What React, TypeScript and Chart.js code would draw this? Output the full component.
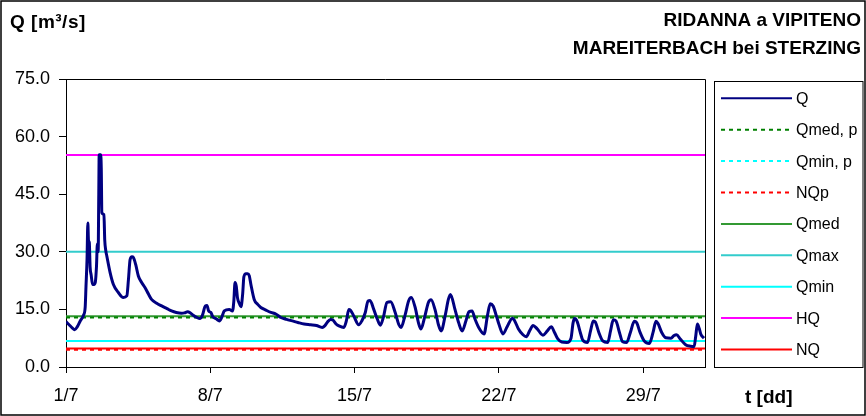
import React, { useEffect, useRef } from 'react';
import { Chart, registerables } from 'chart.js';

Chart.register(...registerables);

// ---- data ----
const xTickDays = [0, 7, 14, 21, 28];
const xTickLabels = ['1/7', '8/7', '15/7', '22/7', '29/7'];
const yTicks = [0, 15, 30, 45, 60, 75];
const xRange = [0, 31];

const qDays = [
  0.0, 0.15, 0.3, 0.42, 0.55, 0.69, 0.85, 0.93, 0.97, 1.02, 1.06, 1.09, 1.13, 1.17, 1.22, 1.29, 1.36, 1.42, 1.48, 1.52,
  1.56, 1.59, 1.61, 1.68, 1.71, 1.74, 1.84, 1.88, 1.93, 1.98, 2.14, 2.3, 2.54, 2.78, 2.95, 3.03, 3.11, 3.2, 3.27, 3.38,
  3.51, 3.67, 3.83, 4.0, 4.15, 4.4, 4.64, 4.9, 5.12, 5.35, 5.6, 5.75, 5.9, 6.05, 6.17, 6.35, 6.49, 6.62, 6.76, 6.84,
  6.92, 7.03, 7.12, 7.3, 7.44, 7.56, 7.68, 7.92, 8.08, 8.14, 8.2, 8.26, 8.32, 8.42, 8.49, 8.57, 8.63, 8.73, 8.81, 8.89,
  8.97, 9.13, 9.3, 9.45, 9.7, 9.94, 10.18, 10.42, 10.7, 10.98, 11.25, 11.55, 11.87, 12.15, 12.43, 12.55, 12.67, 12.83, 12.95, 13.1,
  13.24, 13.48, 13.6, 13.72, 13.8, 13.96, 14.2, 14.35, 14.52, 14.65, 14.75, 14.93, 15.1, 15.25, 15.4, 15.57, 15.75, 15.97, 16.15, 16.25,
  16.45, 16.62, 16.75, 16.94, 17.1, 17.22, 17.4, 17.58, 17.71, 17.9, 18.07, 18.2, 18.4, 18.55, 18.65, 18.87, 19.05, 19.22, 19.4, 19.55,
  19.7, 19.84, 20.05, 20.28, 20.45, 20.58, 20.72, 20.88, 21.0, 21.2, 21.4, 21.66, 21.77, 21.95, 22.17, 22.33, 22.5, 22.66, 22.85, 23.14,
  23.35, 23.54, 23.7, 23.86, 24.05, 24.3, 24.5, 24.6, 24.68, 24.8, 24.95, 25.07, 25.3, 25.45, 25.58, 25.68, 25.85, 26.04, 26.28, 26.42,
  26.55, 26.68, 26.85, 27.0, 27.2, 27.38, 27.57, 27.68, 27.85, 28.05, 28.3, 28.48, 28.62, 28.72, 28.9, 29.1, 29.35, 29.5, 29.62, 29.8,
  30.06, 30.3, 30.47, 30.55, 30.63, 30.72, 30.8, 30.95,
];

const qValues = [
  11.8, 11.0, 10.2, 9.7, 10.5, 12.0, 13.5, 15.5, 21.0, 28.0, 37.5, 33.0, 32.4, 26.0, 24.0, 21.5, 21.5, 22.0, 26.3, 32.0,
  30.0, 45.0, 55.3, 55.3, 52.0, 40.2, 39.7, 33.0, 30.3, 28.9, 24.6, 21.5, 19.4, 18.1, 18.5, 22.8, 28.0, 28.7, 28.5, 26.7,
  23.7, 22.0, 20.7, 19.0, 17.6, 16.6, 15.9, 15.2, 14.6, 14.2, 14.0, 14.1, 14.4, 14.0, 13.5, 12.9, 12.6, 13.5, 15.9, 16.0,
  14.6, 14.2, 13.1, 12.5, 12.0, 13.0, 14.6, 15.0, 14.6, 17.0, 22.0, 21.0, 18.0, 16.4, 15.7, 19.0, 23.5, 24.3, 24.3, 23.8,
  21.5, 17.6, 16.3, 15.5, 14.8, 14.2, 13.8, 12.9, 12.4, 12.0, 11.6, 11.2, 11.0, 10.8, 10.3, 10.7, 11.6, 12.4, 12.2, 11.2,
  10.7, 10.3, 12.0, 15.0, 14.8, 13.3, 11.0, 12.0, 14.2, 17.2, 17.3, 15.0, 12.5, 10.9, 13.0, 16.8, 17.0, 14.2, 11.0, 10.3,
  13.5, 17.2, 18.1, 15.5, 11.5, 9.9, 13.0, 16.8, 17.5, 15.0, 11.0, 9.4, 13.5, 17.6, 18.9, 15.0, 11.5, 9.4, 12.0, 14.4,
  14.6, 12.5, 10.0, 8.6, 13.5, 16.5, 15.9, 13.3, 11.2, 8.6, 10.5, 12.7, 12.0, 9.9, 8.4, 7.9, 9.5, 10.8, 10.0, 8.3,
  9.4, 10.5, 9.0, 7.3, 6.5, 6.4, 7.5, 11.5, 12.6, 11.8, 9.0, 7.0, 6.4, 9.5, 12.0, 11.7, 9.0, 6.8, 6.4, 9.5,
  12.3, 12.0, 9.0, 6.6, 6.4, 9.0, 11.9, 11.6, 9.0, 6.8, 6.1, 9.0, 11.9, 11.3, 9.0, 7.6, 7.5, 8.2, 8.4, 7.3,
  5.8, 5.4, 5.3, 8.0, 11.2, 10.0, 8.5, 7.5,
];

const refNames = ['Qmed, p', 'Qmin, p', 'NQp', 'Qmed', 'Qmax', 'Qmin', 'HQ', 'NQ'];
const refValues = [12.9, 6.8, 4.5, 13.2, 30.0, 6.8, 55.2, 4.8];

// ---- styles ----
const refColors = ['#008000', '#00FFFF', '#FF0000', '#339933', '#33CCCC', '#00FFFF', '#FF00FF', '#FF0000'];
const refDashed = [true, true, true, false, false, false, false, false];
const FONT = '"Liberation Sans", Arial, sans-serif';

const decorPlugin = {
  id: 'decor',
  beforeDraw(chart: any) {
    const ctx = chart.ctx;
    ctx.save();
    ctx.fillStyle = '#fff';
    ctx.fillRect(0, 0, chart.width, chart.height);
    ctx.restore();
  },
  afterDraw(chart: any) {
    const ctx = chart.ctx as CanvasRenderingContext2D;
    const { left, top, right, bottom } = chart.chartArea;
    ctx.save();
    // outer frame
    ctx.strokeStyle = '#000';
    ctx.lineWidth = 1.5;
    ctx.strokeRect(1, 1, chart.width - 2, chart.height - 2);
    // plot frame (top, right)
    ctx.lineWidth = 1;
    ctx.beginPath();
    ctx.moveTo(left, top + 0.5);
    ctx.lineTo(right + 0.5, top + 0.5);
    ctx.lineTo(right + 0.5, bottom);
    ctx.stroke();

    // titles
    ctx.fillStyle = '#000';
    ctx.textBaseline = 'middle';
    ctx.font = `bold 19px ${FONT}`;
    (ctx as any).letterSpacing = '0.5px';
    ctx.textAlign = 'left';
    ctx.fillText('Q [m³/s]', 10, 23);
    (ctx as any).letterSpacing = '0px';
    ctx.textAlign = 'right';
    ctx.fillText('RIDANNA a VIPITENO', 861, 21);
    ctx.fillText('MAREITERBACH bei STERZING', 861, 49);
    ctx.textAlign = 'left';
    ctx.fillText('t [dd]', 745, 398);

    // legend
    const bx = 714, by = 81.5, bw = 148.5, bh = 286;
    ctx.lineWidth = 1;
    ctx.strokeStyle = '#000';
    ctx.strokeRect(bx + 0.5, by, bw, bh);
    ctx.font = `16px ${FONT}`;
    const ds = chart.data.datasets;
    ds.forEach((d: any, i: number) => {
      const y = 98.3 + i * 31.4;
      ctx.save();
      ctx.strokeStyle = d.borderColor;
      ctx.lineWidth = 2;
      ctx.setLineDash(d.borderDash || []);
      ctx.beginPath();
      ctx.moveTo(721, y);
      ctx.lineTo(792, y);
      ctx.stroke();
      ctx.restore();
      ctx.fillStyle = '#000';
      ctx.textAlign = 'left';
      ctx.fillText(d.label, 796, y + 1);
    });
    ctx.restore();
  },
};

export default function App() {
  const ref = useRef<HTMLCanvasElement | null>(null);

  useEffect(() => {
    if (!ref.current) return;
    const qData = qDays.map((x, i) => ({ x, y: qValues[i] }));
    const refSets = refNames.map((name, i) => ({
      label: name,
      data: [
        { x: xRange[0], y: refValues[i] },
        { x: xRange[1], y: refValues[i] },
      ],
      borderColor: refColors[i],
      borderWidth: 2,
      borderDash: refDashed[i] ? [4, 4] : [],
      pointRadius: 0,
      tension: 0,
    }));
    const chart = new Chart(ref.current, {
      type: 'line',
      data: {
        datasets: [
          {
            label: 'Q',
            data: qData,
            borderColor: '#000080',
            borderWidth: 3,
            pointRadius: 0,
            cubicInterpolationMode: 'monotone',
            borderJoinStyle: 'round',
          },
          ...refSets,
        ],
      },
      options: {
        responsive: false,
        animation: false,
        events: [],
        layout: { padding: { top: 79, right: 161, left: 0, bottom: 0 } },
        plugins: {
          legend: { display: false },
          title: { display: false },
          tooltip: { enabled: false },
        },
        scales: {
          x: {
            type: 'linear',
            min: xRange[0],
            max: xRange[1],
            afterBuildTicks: (s: any) => {
              s.ticks = xTickDays.map((v) => ({ value: v }));
            },
            afterFit: (s: any) => {
              s.height = 49;
            },
            ticks: {
              callback: (v: any) => {
                const i = xTickDays.indexOf(Number(v));
                return i >= 0 ? xTickLabels[i] : '';
              },
              font: { family: FONT, size: 18 },
              color: '#000',
              padding: 12,
              maxRotation: 0,
              autoSkip: false,
            },
            grid: { display: true, drawOnChartArea: false, drawTicks: true, tickLength: 6, color: '#000' },
            border: { display: true, color: '#000', width: 1 },
          },
          y: {
            type: 'linear',
            min: yTicks[0],
            max: yTicks[yTicks.length - 1],
            afterBuildTicks: (s: any) => {
              s.ticks = yTicks.map((v) => ({ value: v }));
            },
            afterFit: (s: any) => {
              s.width = 66;
            },
            ticks: {
              callback: (v: any) => Number(v).toFixed(1),
              font: { family: FONT, size: 18 },
              color: '#000',
              padding: 9,
            },
            grid: { display: true, drawOnChartArea: false, drawTicks: true, tickLength: 7, color: '#000' },
            border: { display: true, color: '#000', width: 1 },
          },
        },
      },
      plugins: [decorPlugin],
    });
    return () => chart.destroy();
  }, []);

  return (
    <div style={{ position: 'absolute', left: 0, top: 0, width: 866, height: 416 }}>
      <canvas ref={ref} width={866} height={416} style={{ display: 'block', width: 866, height: 416 }} />
    </div>
  );
}
